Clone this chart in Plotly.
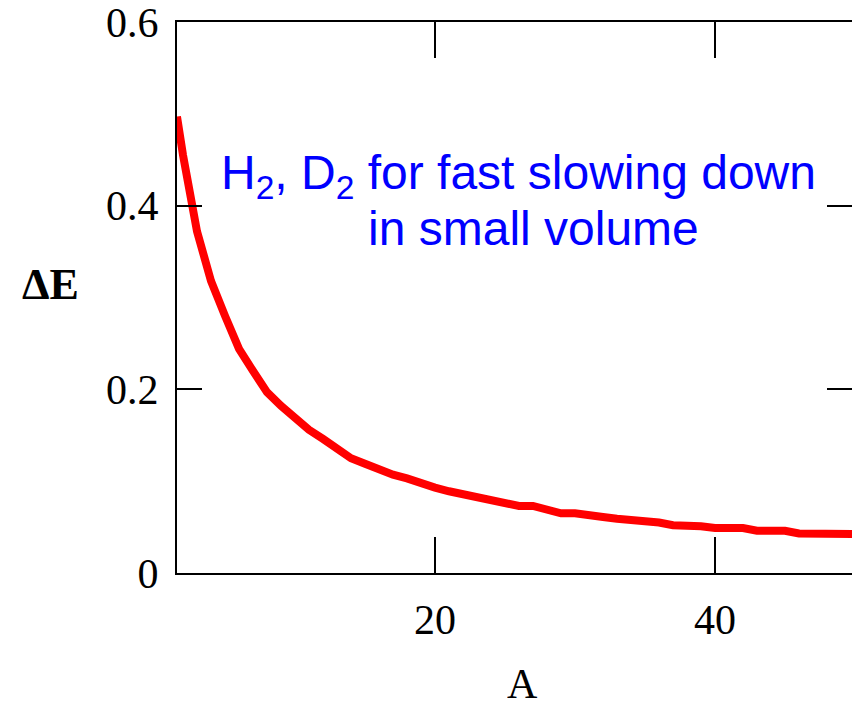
import plotly.graph_objects as go

# ---- data ----
A_values = [1.57, 2, 3, 4, 5, 6, 7, 8, 9, 10, 11, 12, 13, 14, 15, 16, 17, 18, 19, 20,
            21, 22, 23, 24, 25, 26, 27, 28, 29, 30, 31, 32, 33, 34, 35, 36, 37, 38, 39, 40,
            41, 42, 43, 44, 45, 46, 47, 48, 49, 50]
dE_values = [0.497, 0.455, 0.372, 0.318, 0.280, 0.244, 0.220, 0.197, 0.182, 0.168,
             0.156, 0.146, 0.136, 0.125, 0.119, 0.112, 0.107, 0.103, 0.097, 0.093,
             0.089, 0.086, 0.083, 0.080, 0.076, 0.073, 0.073, 0.069, 0.065, 0.065,
             0.062, 0.061, 0.059, 0.058, 0.056, 0.055, 0.052, 0.052, 0.051, 0.049,
             0.049, 0.049, 0.046, 0.046, 0.046, 0.043, 0.0425, 0.0425, 0.0425, 0.0425]

x_tickvals = [20, 40]
x_ticktext = ["20", "40"]
y_tickvals = [0, 0.2, 0.4, 0.6]
y_ticktext = ["0", "0.2", "0.4", "0.6"]

x_title = "A"
y_title = "<b>ΔE</b>"
note_line1 = "H<sub>2</sub>, D<sub>2</sub> for fast slowing down"
note_line2 = "in small volume"

# ---- geometry ----
W, H = 852, 704
L, R, T, B = 177, 852, 22, 573


def px(x):
    return (x - L) / (R - L)


def py(y):
    return (B - y) / (B - T)


serif = "Liberation Serif, Times New Roman, serif"
sans = "Liberation Sans, Arial, sans-serif"

fig = go.Figure()
fig.add_trace(go.Scatter(x=A_values, y=dE_values, mode="lines",
                         line=dict(color="#ff0000", width=8),
                         hoverinfo="skip", showlegend=False))
# invisible companion trace so that the right-hand tick axis is rendered
fig.add_trace(go.Scatter(x=A_values, y=dE_values, mode="lines", yaxis="y2",
                         line=dict(color="rgba(0,0,0,0)", width=0),
                         hoverinfo="skip", showlegend=False))

fig.update_layout(
    width=W, height=H,
    margin=dict(l=L, r=W - R, t=T, b=H - B, pad=0),
    paper_bgcolor="white", plot_bgcolor="white",
    showlegend=False,
    xaxis=dict(range=[1.571, 49.786], showgrid=False, zeroline=False,
               showline=True, linecolor="black", linewidth=2, mirror="ticks",
               ticks="inside", ticklen=36, tickwidth=2, tickcolor="black",
               tickvals=x_tickvals, ticktext=x_ticktext,
               tickfont=dict(family=serif, size=42, color="black"),
               ticklabelstandoff=9, ticklabeloverflow="allow"),
    yaxis=dict(range=[0, 0.6], showgrid=False, zeroline=False,
               showline=True, linecolor="black", linewidth=2, mirror=False,
               ticks="inside", ticklen=25, tickwidth=2, tickcolor="black",
               tickvals=y_tickvals, ticktext=y_ticktext,
               tickfont=dict(family=serif, size=42, color="black"),
               ticklabelstandoff=8, ticklabeloverflow="allow"),
    yaxis2=dict(range=[0, 0.6], overlaying="y", side="right", showgrid=False,
                zeroline=False, showline=False, ticks="inside", ticklen=25,
                tickwidth=2, tickcolor="black", tickvals=y_tickvals,
                showticklabels=False),
)

fig.add_annotation(x=px(50), y=py(284), xref="paper", yref="paper",
                   text=y_title, showarrow=False, xanchor="center", yanchor="middle",
                   font=dict(family=serif, size=44, color="black"))
fig.add_annotation(x=px(522), y=py(684), xref="paper", yref="paper",
                   text=x_title, showarrow=False, xanchor="center", yanchor="middle",
                   height=34, font=dict(family=serif, size=42, color="black"))
fig.add_annotation(x=px(518), y=py(176), xref="paper", yref="paper",
                   text=note_line1, showarrow=False, xanchor="center", yanchor="middle",
                   font=dict(family=sans, size=48, color="#0000ff"))
fig.add_annotation(x=px(533), y=py(229), xref="paper", yref="paper",
                   text=note_line2, showarrow=False, xanchor="center", yanchor="middle",
                   font=dict(family=sans, size=48, color="#0000ff"))

fig.write_html("out.html")
